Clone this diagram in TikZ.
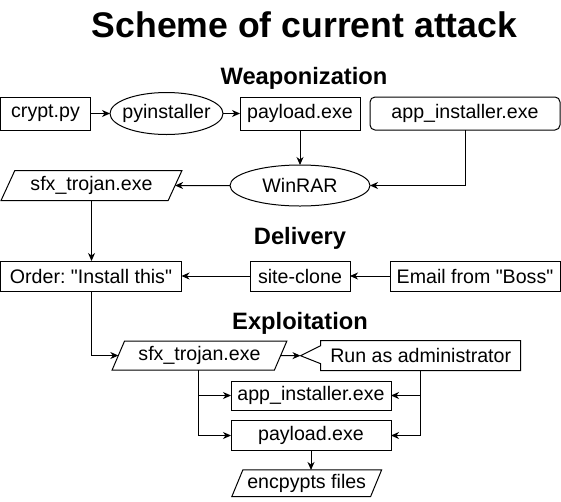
\documentclass[tikz,border=0pt]{standalone}
\usepackage{fontspec}
\setmainfont{Liberation Sans}
\usetikzlibrary{shapes.geometric,arrows.meta}
\newcommand{\sq}{\XeTeXglyph\XeTeXcharglyph"22\relax}
\begin{document}
\frenchspacing
\begin{tikzpicture}[x=1pt,y=-1pt,
  every node/.style={outer sep=0pt, inner sep=0pt, font=\fontsize{19.6}{23}\selectfont},
  box/.style={draw, line width=1pt, rectangle},
  ell/.style={draw, line width=1pt, ellipse},
  para/.style={draw, line width=1pt, trapezium, trapezium stretches=true,
    trapezium left angle=#1, trapezium right angle={180-#1}},
  arr/.style={line width=1pt, -{Stealth[length=8pt,width=7pt,inset=2.5pt]}},
  plain/.style={line width=1pt},
  head/.style={font=\bfseries\fontsize{23.7}{28}\selectfont, anchor=base},
  ttl/.style={font=\bfseries\fontsize{35.6}{40}\selectfont, anchor=base}
]
\useasboundingbox (0,0) rectangle (561,501);

% headings
\node[ttl]  (title) at (304.5,37) {Scheme of current attack};
\node[head] (weap)  at (304,84)   {Weaponization};
\node[head] (deliv) at (300,244)  {Delivery};
\node[head] (expl)  at (300,329)  {Exploitation};

% weaponization
\node[box, minimum width=90, minimum height=33] (crypt) at (45.5,113.5) {crypt.py};
\node[ell, minimum width=113, minimum height=42] (pyi) at (166.5,113.5) {\makebox[0pt]{pyinstaller}};
\node[box, minimum width=120, minimum height=33] (pay1) at (300,113.5) {payload.exe};
\node[box, rounded corners=5pt, minimum width=190, minimum height=33] (app1) at (465,113.5) {app\_installer.exe};
\node[ell, minimum width=140, minimum height=41] (winrar) at (300,185.5) {\makebox[0pt]{WinRAR}};
\node[para=59, minimum width=181, minimum height=30] (sfx1) at (91.5,185.5) {sfx\_trojan.exe};

% delivery
\node[box, minimum width=181, minimum height=30] (order) at (91,276) {Order: \sq Install this\sq};
\node[box, minimum width=100, minimum height=30] (site) at (300,276) {site-clone};
\node[box, minimum width=170, minimum height=30] (email) at (475,276) {Email from \sq Boss\sq};

% exploitation
\node[para=61, minimum width=175, minimum height=29] (sfx2) at (199.5,355.5) {sfx\_trojan.exe};
\node[minimum width=200, minimum height=30] (run) at (420.7,355.7) {Run as administrator};
\coordinate (runtip) at (300.5,355.7);
\draw[plain] (run.north west) -- ++(0,5) -- (runtip) -- ([yshift=7pt]run.south west)
  -- (run.south west) -- (run.south east) -- (run.north east) -- cycle;
\node[box, minimum width=160, minimum height=29] (app2) at (311,395.5) {app\_installer.exe};
\node[box, minimum width=160, minimum height=30] (pay2) at (311,435.5) {payload.exe};
\node[para=60.7, minimum width=150, minimum height=26.7] (enc) at (306.7,483.3) {encpypts files};

% connectors
\draw[arr] (crypt.east) -- (pyi.west);
\draw[arr] (pyi.east) -- (pay1.west);
\draw[arr] (pay1.south) -- (winrar.north);
\draw[arr] (app1.south) |- (winrar.east);
\draw[arr] (winrar.west) -- (sfx1.east);
\draw[arr] (sfx1.south) -- (sfx1.south |- order.north);
\draw[arr] (email.west) -- (site.east);
\draw[arr] (site.west) -- (order.east);
\draw[arr] (order.south) |- (sfx2.west);
\draw[arr] (sfx2.east) -- (runtip);
\coordinate (ltrunk) at ([xshift=-1.5pt]sfx2.south);
\draw[arr] (ltrunk) |- (app2.west);
\draw[arr] (ltrunk) |- (pay2.west);
\draw[arr] (run.south) |- (app2.east);
\draw[arr] (run.south) |- (pay2.east);
\draw[arr] (pay2.south) -- (pay2.south |- enc.north);
\end{tikzpicture}
\end{document}
